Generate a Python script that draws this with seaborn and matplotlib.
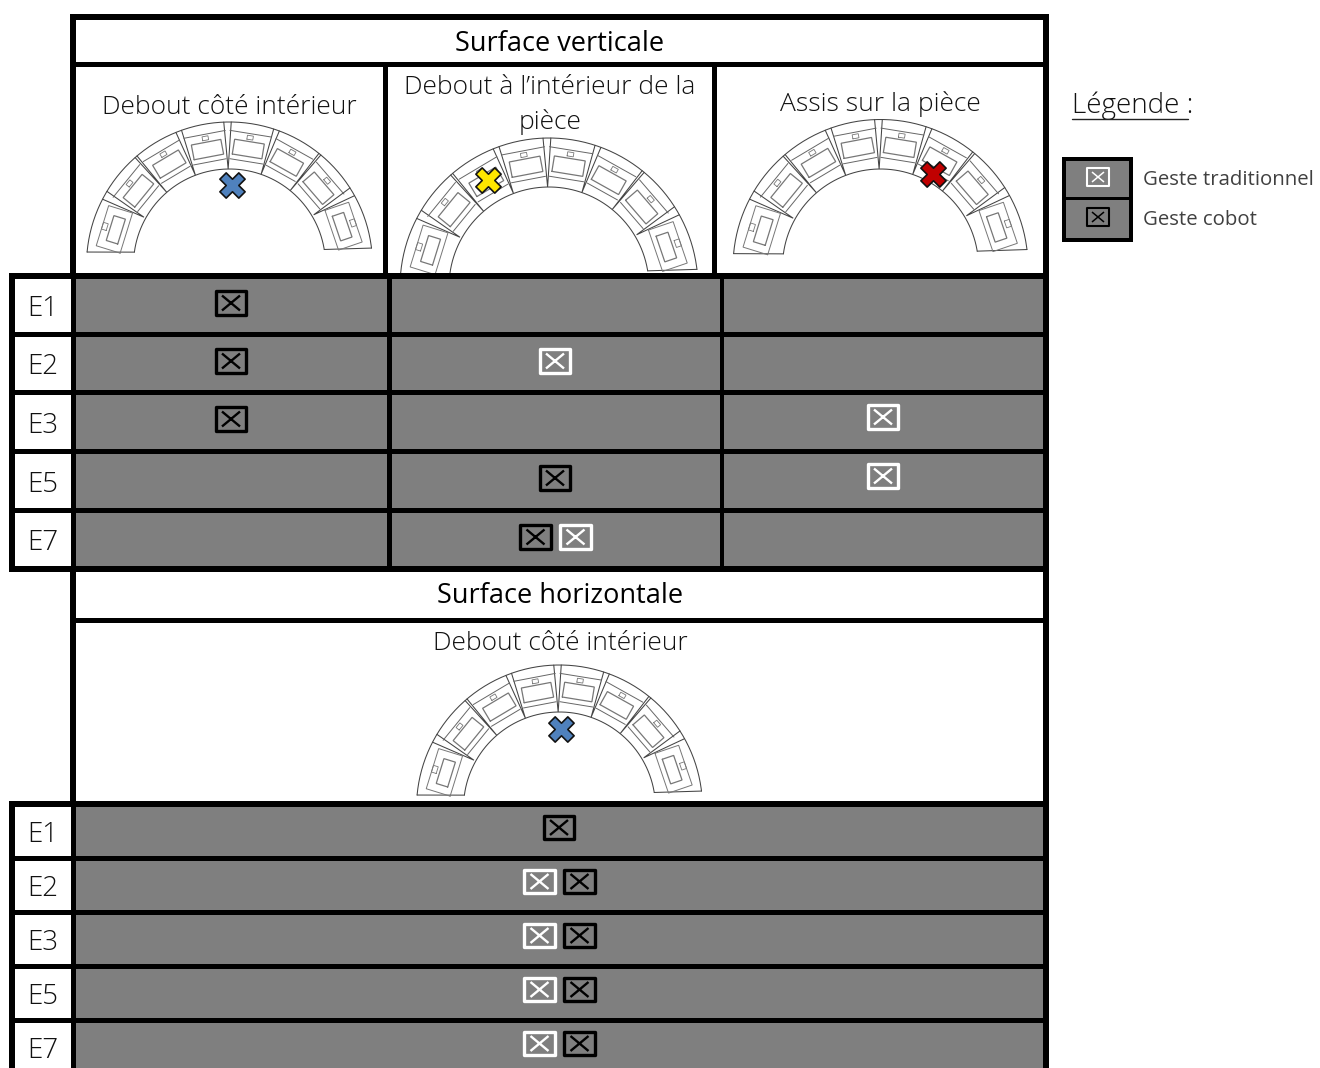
import numpy as np
import pandas as pd
import matplotlib
matplotlib.use("Agg")
import matplotlib.pyplot as plt
from matplotlib.patches import Rectangle
from matplotlib.path import Path
import seaborn as sns

# ---- content ----
sections = ["Surface verticale", "Surface horizontale"]
postures_v = ["Debout côté intérieur", "Debout à l’intérieur de la\npièce", "Assis sur la pièce"]
postures_h = ["Debout côté intérieur"]
row_labels = ["E1", "E2", "E3", "E5", "E7"]
legend_title = "Légende :"
legend_labels = ["Geste traditionnel", "Geste cobot"]

# (section, row, posture index, gesture) ; gestures sharing a cell are listed left to right
marks_section = ["V","V","V","V","V","V","V","V","V",
                 "H","H","H","H","H","H","H","H","H"]
marks_row = ["E1","E2","E2","E3","E3","E5","E5","E7","E7",
             "E1","E2","E2","E3","E3","E5","E5","E7","E7"]
marks_col = [0,0,1,0,2,1,2,1,1,
             0,0,0,0,0,0,0,0,0]
marks_gesture = ["cobot","cobot","trad","cobot","trad","cobot","trad","cobot","trad",
                 "cobot","trad","cobot","trad","cobot","trad","cobot","trad","cobot"]

# ---- layout in figure pixels ----
W, H = 1320, 1068
V_COLS = [(76, 387), (392, 720), (724, 1043)]
V_HEAD = [(76, 383), (388, 712), (717, 1043)]
V_ROWS = [(279, 332), (337, 390), (395, 449), (454, 508), (513, 566)]
H_ROWS = [(807, 856), (861, 910), (915, 964), (969, 1018), (1023, 1068)]
GREY, BLACK = "#7f7f7f", "#000000"
TEXT_DARK = "#111111"

sns.set_theme(style="white")
plt.rcParams["font.family"] = ["Open Sans", "DejaVu Sans"]
fig = plt.figure(figsize=(W / 100, H / 100), dpi=100)
ax = fig.add_axes([0, 0, 1, 1])
ax.set_xlim(0, W)
ax.set_ylim(H, 0)
ax.axis("off")

def rect(x0, x1, y0, y1, color, z=1):
    ax.add_patch(Rectangle((x0, y0), x1 - x0, y1 - y0, fc=color, ec="none", lw=0, zorder=z))

# black skeleton
rect(70, 1049, 14, 279, BLACK)
rect(9, 1049, 273, 572, BLACK)
rect(70, 1049, 572, 807, BLACK)
rect(9, 1049, 801, 1068, BLACK)

# white cells
rect(76, 1043, 20, 62, "white", 2)
for a, b in V_HEAD:
    rect(a, b, 67, 273, "white", 2)
rect(76, 1043, 572, 618, "white", 2)
rect(76, 1043, 623, 801, "white", 2)

LAB = dict(ha="center", va="center", fontsize=20, color=TEXT_DARK, fontweight="light", zorder=5)
for (y0, y1), lab in zip(V_ROWS, row_labels):
    rect(15, 71, y0, y1, "white", 2)
    for a, b in V_COLS:
        rect(a, b, y0, y1, GREY, 2)
    ax.text(43, (y0 + y1) / 2 + 4, lab, **LAB)
for (y0, y1), lab in zip(H_ROWS, row_labels):
    rect(15, 71, y0, y1, "white", 2)
    rect(76, 1043, y0, y1, GREY, 2)
    ax.text(43, y0 + 28, lab, **LAB)

# section and posture titles
ax.text(560, 44, sections[0], ha="center", va="center", fontsize=19.5, color="black", zorder=5)
ax.text(560, 596, sections[1], ha="center", va="center", fontsize=19.5, color="black", zorder=5)
TXT = dict(ha="center", va="center", fontsize=19, color=TEXT_DARK, fontweight="light", zorder=5)
ax.text(229, 107, postures_v[0], **TXT)
ax.text(550, 105, postures_v[1], linespacing=1.45, **TXT)
ax.text(880, 104, postures_v[2], **TXT)
ax.text(560, 643, postures_h[0], **TXT)

# ---- arch drawing ----
def draw_arch(cx, cy, R, inner, rot, clip=None):
    s = R / 143.0
    lines = []
    def pol(r, th):
        t = np.radians(th + rot)
        return np.array([cx + r * np.sin(t), cy - r * np.cos(t)])
    def local(phi, u, v):
        t = np.radians(phi + rot)
        return (cx + s * (v * np.sin(t) + u * np.cos(t)), cy + s * (-v * np.cos(t) + u * np.sin(t)))
    for r, e in ((R, 84), (inner, 81.5)):
        th = np.linspace(-e, e, 200)
        lines.append((np.array([pol(r, t) for t in th]), "#444444", 0.75))
    for o, i in ((-84, -81.5), (84, 81.5)):
        lines.append((np.array([pol(R, o), pol(inner, i)]), "#444444", 0.75))
    # dividers between blocks: narrow wedges
    for d, hw in [(0, 1.5), (-20, 1.2), (20, 1.2), (-40, 0.5), (40, 0.5), (-60, 1.8), (60, 1.8)]:
        tip = inner if abs(d) != 60 else inner + 2
        lines.append((np.array([pol(R, d - hw), pol(tip, d), pol(R, d + hw)]), "#444444", 0.75))
    # stone details
    for phi in (-50, -30, -10, 10, 30, 50):
        for v in (133, 105):
            hw = v * np.tan(np.radians(9))
            lines.append((np.array([local(phi, -hw, v), local(phi, hw, v)]), "#666666", 0.7))
        lines.append((np.array([local(phi, a, b) for a, b in [(-15, 110), (15, 110), (15, 125), (-15, 125), (-15, 110)]]), "#777777", 0.9))
        lines.append((np.array([local(phi, a, b) for a, b in [(-3, 127), (3, 127), (3, 131), (-3, 131), (-3, 127)]]), "#777777", 0.6))
    for phi in (-72, 72):
        lines.append((np.array([local(phi, a, b) for a, b in [(-21, 108), (21, 108), (21, 133), (-21, 133), (-21, 108)]]), "#777777", 0.7))
        lines.append((np.array([local(phi, a, b) for a, b in [(-13, 113), (13, 113), (13, 125), (-13, 125), (-13, 113)]]), "#777777", 0.9))
        lines.append((np.array([local(phi, a, b) for a, b in [(-3.5, 128), (3.5, 128), (3.5, 133), (-3.5, 133), (-3.5, 128)]]), "#777777", 0.6))
    for pts, col, lw in lines:
        ln, = ax.plot(pts[:, 0], pts[:, 1], color=col, lw=lw, zorder=3, solid_joinstyle="miter")
        if clip is not None:
            ln.set_clip_path(Rectangle((clip[0], clip[2]), clip[1] - clip[0], clip[3] - clip[2], transform=ax.transData))

draw_arch(229.5, 265, 143, 96, -0.8)
draw_arch(549, 287, 149, 100, -0.8, clip=(388, 712, 67, 273))
draw_arch(880.5, 267, 147.5, 98, -0.8)
draw_arch(559.5, 808, 143, 96, -0.8)

# position crosses
cross_x = [232, 488, 933, 561]
cross_y = [185, 180, 174, 729]
cross_colors = ["#4f81bd", "#ffe600", "#c00000", "#4f81bd"]
for xx, yy, cc in zip(cross_x, cross_y, cross_colors):
    sns.scatterplot(x=[xx], y=[yy], ax=ax, marker="X", s=330, color=cc, edgecolor="#111111", linewidth=1.2, zorder=6, legend=False, clip_on=False)

# ---- gesture marks ----
ratio = 24 / 31
BOX = Path([(-1, -ratio), (1, -ratio), (1, ratio), (-1, ratio), (-1, -ratio)], closed=True)
CROSS = Path([(-1, -0.83), (1, 0.83), (-1, 0.83), (1, -0.83)], [Path.MOVETO, Path.LINETO, Path.MOVETO, Path.LINETO])
COLORS = {"cobot": "#000000", "trad": "#ffffff"}

def draw_marks(xs, ys, color, box_px, box_lw, x_px, x_lw):
    df = pd.DataFrame({"x": xs, "y": ys})
    sns.scatterplot(data=df, x="x", y="y", ax=ax, marker=BOX, s=(box_px / 1.389) ** 2, facecolor="none",
                    edgecolor=color, linewidth=box_lw, zorder=6, legend=False)
    sns.scatterplot(data=df, x="x", y="y", ax=ax, marker=CROSS, s=(x_px / 1.389) ** 2, facecolor="none",
                    edgecolor=color, linewidth=x_lw, zorder=6, legend=False)

cells = {}
for sec, row, col, g in zip(marks_section, marks_row, marks_col, marks_gesture):
    cells.setdefault((sec, row, col), []).append(g)
pts = {"cobot": ([], []), "trad": ([], [])}
COL_CENTRES = [231, 555, 883]
for (sec, row, col), gs in cells.items():
    i = row_labels.index(row)
    y0, y1 = (V_ROWS if sec == "V" else H_ROWS)[i]
    if sec == "V":
        y = y0 + 24 - (2 if col == 2 else 0)
        cx = COL_CENTRES[col]
    else:
        y = y0 + 20.5
        cx = 559
    offs = [-19.5, 20.5] if len(gs) == 2 else [0]
    for g, o in zip(gs, offs):
        pts[g][0].append(cx + o)
        pts[g][1].append(y)
for g, (xs, ys) in pts.items():
    draw_marks(xs, ys, COLORS[g], 31, 2.4, 18, 1.7)

# ---- legend ----
ax.text(1072, 106, legend_title, ha="left", va="center", fontsize=20, color=TEXT_DARK, fontweight="light", zorder=5)
ax.plot([1072, 1188], [118.5, 118.5], color="#222222", lw=1.0, zorder=5)
rect(1062, 1133, 157, 242, BLACK)
rect(1066, 1129, 161, 197, GREY, 2)
rect(1066, 1129, 200, 238, GREY, 2)
draw_marks([1098], [177], COLORS["trad"], 22, 1.5, 12, 1.1)
draw_marks([1098], [217], COLORS["cobot"], 22, 1.5, 12, 1.1)
ax.text(1143, 180, legend_labels[0], ha="left", va="center", fontsize=14.7, color="#404040", zorder=5)
ax.text(1143, 220, legend_labels[1], ha="left", va="center", fontsize=14.7, color="#404040", zorder=5)

ax.set_xlim(0, W)
ax.set_ylim(H, 0)
ax.axis("off")
fig.savefig("out.png", dpi=100, facecolor="white")
